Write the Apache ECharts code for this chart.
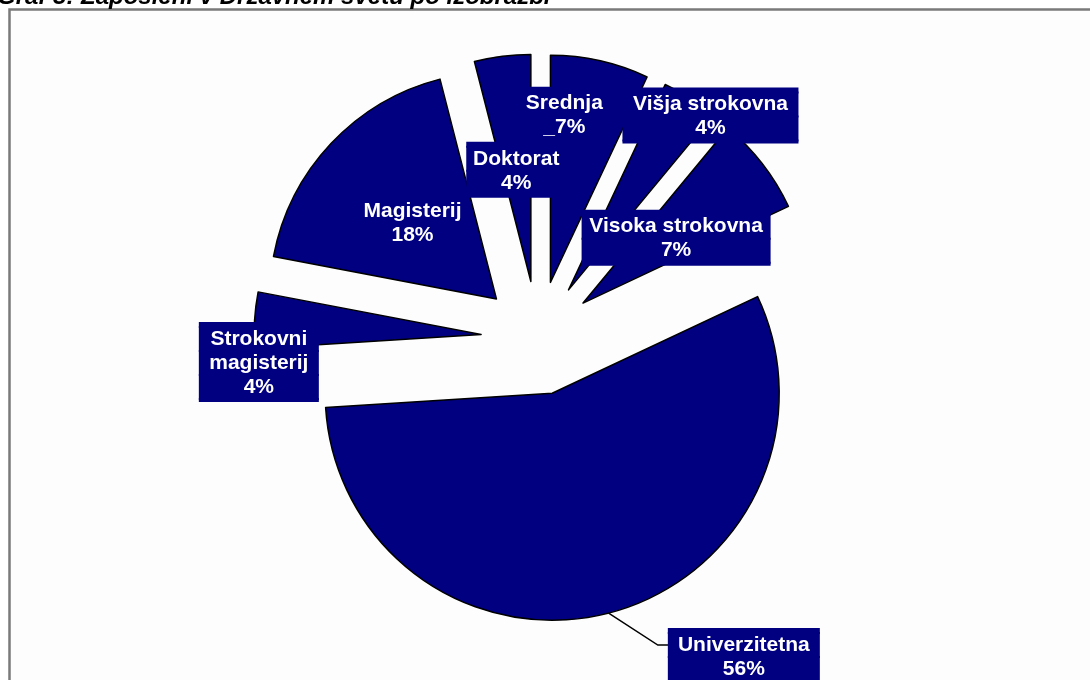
<!DOCTYPE html>
<html>
<head>
<meta charset="utf-8">
<script src="https://cdn.jsdelivr.net/npm/echarts@6/dist/echarts.min.js"></script>
<style>
html,body{margin:0;padding:0;background:#ffffff;}
#chart{width:1090px;height:680px;}
</style>
</head>
<body>
<div id="chart"></div>
<script>
// ---- data ----
const categories = ['Srednja', 'Višja strokovna', 'Visoka strokovna', 'Univerzitetna', 'Strokovni magisterij', 'Magisterij', 'Doktorat'];
const labelNames = ['Srednja', 'Višja strokovna', 'Visoka strokovna', 'Univerzitetna', 'Strokovni\nmagisterij', 'Magisterij', 'Doktorat'];
const values = [7, 4, 7, 56, 4, 18, 4];
const titleText = 'Graf 3: Zaposleni v Državnem svetu po izobrazbi';

// ---- layout / style (not data) ----
const NAVY = '#000080';
const FONT = 'Liberation Sans, Arial, sans-serif';
// label box widths and shifts of the label block from the library's default inside position
const boxWidth = {
  'Srednja': 92, 'Višja strokovna': 174, 'Visoka strokovna': 187, 'Univerzitetna': 150,
  'Strokovni magisterij': 118, 'Magisterij': 112, 'Doktorat': 98
};
const labelShift = {
  'Srednja': [-11.5, -54],
  'Višja strokovna': [79.5, -76],
  'Visoka strokovna': [1, 6],
  'Strokovni magisterij': [-106, 35],
  'Magisterij': [1, 3],
  'Doktorat': [0, 4],
  'Univerzitetna': [0, 11]
};
const pctPrefix = { 'Srednja': '_' };
const outsideNames = ['Univerzitetna'];
const elbowLength = 11;

function richFor(w) {
  const box = { width: w, backgroundColor: NAVY, borderColor: NAVY, borderWidth: 1 };
  return {
    s: Object.assign({ height: 4, lineHeight: 4, fontSize: 1 }, box),
    e: Object.assign({ height: 2, lineHeight: 2, fontSize: 1 }, box),
    b: Object.assign({
      height: 24, lineHeight: 24, align: 'center',
      color: '#ffffff', fontFamily: FONT, fontWeight: 'bold', fontSize: 21
    }, box)
  };
}
function shiftPadding(sh) {
  const dx = sh[0], dy = sh[1];
  return [Math.max(0, 2 * dy), Math.max(0, -2 * dx), Math.max(0, -2 * dy), Math.max(0, 2 * dx)];
}

const chart = echarts.init(document.getElementById('chart'), null, { renderer: 'canvas' });

const data = categories.map(function (c, i) {
  const outside = outsideNames.indexOf(c) >= 0;
  return {
    name: c,
    value: values[i],
    selected: true,
    label: {
      position: outside ? 'outside' : 'inside',
      distanceToLabelLine: 0,
      backgroundColor: 'transparent',
      padding: shiftPadding(labelShift[c] || [0, 0]),
      rich: richFor(boxWidth[c] || 100)
    },
    labelLine: outside
      ? { show: true, length: 33, length2: 52, smooth: false, lineStyle: { color: '#000', width: 1.5 } }
      : { show: false }
  };
});

chart.setOption({
  backgroundColor: '#ffffff',
  animation: false,
  title: {
    text: titleText,
    left: -3,
    top: -15,
    padding: 0,
    textStyle: {
      fontFamily: FONT,
      fontSize: 24,
      fontWeight: 'bold',
      fontStyle: 'italic',
      color: '#000000'
    }
  },
  graphic: [{
    type: 'rect',
    z: -10,
    silent: true,
    shape: { x: 9.5, y: 9.5, width: 1200, height: 800 },
    style: { fill: '#fdfdfd', stroke: '#7a7a7a', lineWidth: 2.5 }
  }],
  series: [{
    type: 'pie',
    center: [538, 338],
    radius: 227,
    startAngle: 90,
    clockwise: true,
    selectedMode: 'multiple',
    selectedOffset: 57,
    avoidLabelOverlap: false,
    silent: true,
    labelLayout: function (params) {
      const out = { hideOverlap: false };
      const pts = params.labelLinePoints;
      if (pts && pts.length === 3 && outsideNames.indexOf(categories[params.dataIndex]) >= 0) {
        const end = pts[2];
        out.labelLinePoints = [pts[0], [end[0] - elbowLength, end[1]], end];
      }
      return out;
    },
    itemStyle: { color: NAVY, borderColor: '#000000', borderWidth: 1.5 },
    select: { itemStyle: { color: NAVY, borderColor: '#000000', borderWidth: 1.5 } },
    emphasis: { disabled: true },
    label: {
      show: true,
      formatter: function (p) {
        const lines = (labelNames[p.dataIndex] + '\n' + (pctPrefix[p.name] || '') + Math.round(p.percent) + '%').split('\n');
        return '{s| }\n' + lines.map(function (l) { return '{b|' + l + '}'; }).join('\n') + '\n{e| }';
      }
    },
    data: data
  }]
});
</script>
</body>
</html>
